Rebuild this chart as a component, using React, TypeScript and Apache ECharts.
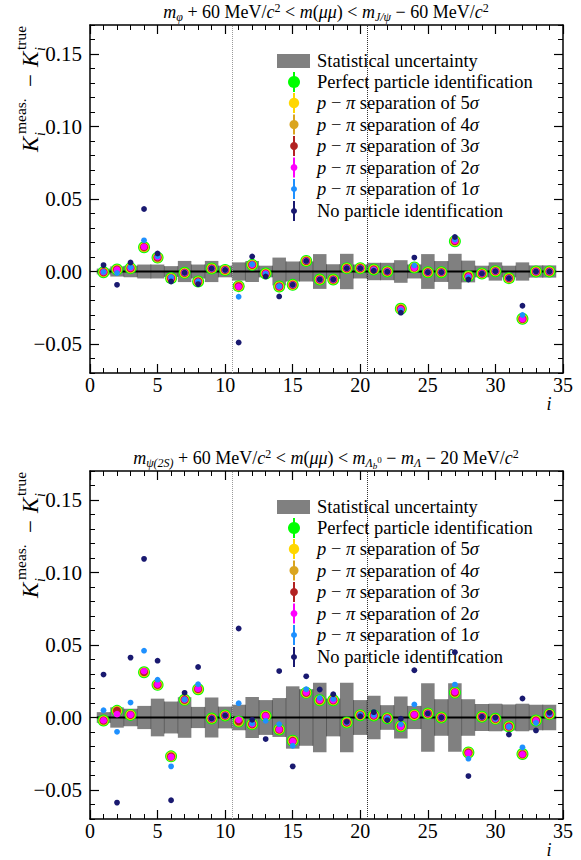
import React, { useEffect, useRef } from "react";
import * as echarts from "echarts";

const SERIF = "Liberation Serif";

const bins = [1, 2, 3, 4, 5, 6, 7, 8, 9, 10, 11, 12, 13, 14, 15, 16, 17, 18, 19, 20, 21, 22, 23, 24, 25, 26, 27, 28, 29, 30, 31, 32, 33, 34];
const yMajorTicks = [-0.05, 0, 0.05, 0.1, 0.15];
const binSeparators = [10.5, 20.5];

// ---------- top panel ----------
const statTop = [0.002, 0.0035, 0.004, 0.0048, 0.0048, 0.0037, 0.0073, 0.0048, 0.0073, 0.004, 0.0063, 0.0073, 0.004, 0.0096, 0.0069, 0.0069, 0.012, 0.005, 0.0122, 0.0048, 0.006, 0.006, 0.0078, 0.0048, 0.012, 0.0072, 0.0122, 0.0075, 0.004, 0.0063, 0.004, 0.0063, 0.0042, 0.0042];
const perfectTop = [-0.0005, 0.0014, 0.0023, 0.0167, 0.0096, -0.0046, -0.0009, -0.0069, 0.0021, 0.0011, -0.0101, 0.0046, -0.0014, -0.0103, -0.0092, 0.0073, -0.0055, -0.0055, 0.0023, 0.0023, 0.0014, 0.0, -0.0257, 0.0028, -0.0005, -0.0005, 0.0209, -0.0032, -0.0014, 0.0002, -0.0046, -0.0326, 0.0, 0.0];
const sep5Top = [-0.0005, 0.0014, 0.0023, 0.0167, 0.0096, -0.0046, -0.0009, -0.0069, 0.0021, 0.0011, -0.0101, 0.0046, -0.0014, -0.0103, -0.0092, 0.0073, -0.0055, -0.0055, 0.0023, 0.0023, 0.0014, 0.0, -0.0257, 0.0028, -0.0005, -0.0005, 0.0209, -0.0032, -0.0014, 0.0002, -0.0046, -0.0326, 0.0, 0.0];
const sep4Top = [-0.0005, 0.0014, 0.0023, 0.0167, 0.0096, -0.0046, -0.0009, -0.0069, 0.0021, 0.0011, -0.0101, 0.0046, -0.0014, -0.0103, -0.0092, 0.0073, -0.0055, -0.0055, 0.0023, 0.0023, 0.0014, 0.0, -0.0257, 0.0028, -0.0005, -0.0005, 0.0209, -0.0032, -0.0014, 0.0002, -0.0046, -0.0326, 0.0, 0.0];
const sep3Top = [-0.0005, 0.0014, 0.0023, 0.0168, 0.0097, -0.0046, -0.0009, -0.0069, 0.0021, 0.0011, -0.0102, 0.0046, -0.0014, -0.0103, -0.0092, 0.0073, -0.0055, -0.0055, 0.0023, 0.0023, 0.0014, 0.0, -0.0258, 0.0028, -0.0005, -0.0005, 0.021, -0.0033, -0.0014, 0.0002, -0.0046, -0.0327, 0.0, 0.0];
const sep2Top = [-0.0004, 0.0013, 0.0024, 0.017, 0.0099, -0.0045, -0.0009, -0.007, 0.0021, 0.0011, -0.0104, 0.0047, -0.0014, -0.0104, -0.0092, 0.0073, -0.0055, -0.0055, 0.0023, 0.0023, 0.0013, 0.0, -0.026, 0.0026, -0.0005, -0.0005, 0.0212, -0.0034, -0.0014, 0.0002, -0.0046, -0.0328, 0.0, 0.0];
const sep1Top = [-0.0003, -0.001, 0.003, 0.0215, 0.0105, -0.004, -0.0009, -0.0069, 0.0021, 0.0011, -0.0174, 0.005, -0.0016, -0.0101, -0.0092, 0.0073, -0.0055, -0.0055, 0.0023, 0.0023, 0.001, 0.0, -0.0268, 0.0042, -0.0005, -0.0005, 0.022, -0.004, -0.0014, 0.0002, -0.0046, -0.03, 0.0, 0.0];
const noPidTop = [0.0044, -0.0092, 0.0062, 0.0431, 0.0124, -0.0069, -0.0009, -0.0087, 0.0021, 0.0011, -0.049, 0.0104, -0.0034, -0.0172, -0.0092, 0.0073, -0.0055, -0.0055, 0.0023, 0.0023, 0.0005, -0.0002, -0.0284, 0.0096, -0.0005, -0.0005, 0.0238, -0.0055, -0.0014, 0.0002, -0.0046, -0.0236, 0.0, 0.0];

// ---------- bottom panel ----------
const statBot = [0.0037, 0.007, 0.006, 0.008, 0.013, 0.011, 0.014, 0.0073, 0.0138, 0.0075, 0.0088, 0.0142, 0.012, 0.0134, 0.0215, 0.0195, 0.024, 0.013, 0.024, 0.012, 0.015, 0.0085, 0.0145, 0.008, 0.0237, 0.0126, 0.0237, 0.0126, 0.0093, 0.0095, 0.009, 0.0095, 0.0088, 0.0088];
const perfectBot = [-0.0021, 0.0046, 0.0018, 0.0312, 0.0225, -0.0268, 0.0122, 0.0195, -0.0007, 0.0014, -0.0028, -0.0046, 0.0011, -0.0083, -0.016, 0.017, 0.0119, 0.0119, -0.0034, 0.0016, 0.0014, -0.0005, -0.006, 0.0018, 0.0028, 0.0, 0.0172, -0.0241, 0.0005, -0.0009, -0.0062, -0.0252, -0.0021, 0.0023];
const sep5Bot = [-0.0021, 0.0046, 0.0018, 0.0312, 0.0225, -0.0268, 0.0122, 0.0195, -0.0007, 0.0014, -0.0028, -0.0046, 0.0011, -0.0083, -0.016, 0.017, 0.0119, 0.0119, -0.0034, 0.0016, 0.0014, -0.0005, -0.006, 0.0018, 0.0028, 0.0, 0.0172, -0.0241, 0.0005, -0.0009, -0.0062, -0.0252, -0.0021, 0.0023];
const sep4Bot = [-0.0021, 0.0046, 0.0018, 0.0313, 0.0225, -0.0268, 0.0122, 0.0195, -0.0007, 0.0014, -0.0028, -0.0046, 0.0011, -0.0083, -0.016, 0.017, 0.0119, 0.0119, -0.0034, 0.0016, 0.0014, -0.0005, -0.006, 0.0018, 0.0028, 0.0, 0.0172, -0.0241, 0.0005, -0.0009, -0.0062, -0.0252, -0.0021, 0.0023];
const sep3Bot = [-0.0021, 0.0046, 0.0018, 0.0314, 0.0226, -0.0269, 0.0122, 0.0196, -0.0007, 0.0014, -0.0026, -0.0046, 0.0011, -0.0083, -0.0161, 0.0171, 0.012, 0.0119, -0.0034, 0.0016, 0.0014, -0.0005, -0.006, 0.0018, 0.0028, 0.0, 0.0173, -0.0242, 0.0005, -0.0009, -0.0062, -0.0253, -0.0021, 0.0023];
const sep2Bot = [-0.002, 0.0023, 0.0019, 0.032, 0.0228, -0.0272, 0.0123, 0.0198, -0.0007, 0.0014, -0.0016, -0.0046, 0.0011, -0.0083, -0.0163, 0.0172, 0.0121, 0.0119, -0.0034, 0.0016, 0.0014, -0.0005, -0.0062, 0.002, 0.0028, 0.0, 0.0176, -0.0245, 0.0005, -0.0009, -0.0063, -0.0254, -0.0022, 0.0023];
const sep1Bot = [0.005, -0.0099, 0.0103, 0.0461, 0.0261, -0.0337, 0.0124, 0.0229, -0.0007, 0.0014, 0.0099, -0.0042, -0.0023, -0.0046, -0.0195, 0.0195, 0.0135, 0.0128, -0.0034, 0.002, 0.0018, -0.0005, -0.0046, 0.009, 0.0028, 0.0, 0.0227, -0.0284, 0.0005, -0.0009, -0.0064, -0.0206, -0.0037, 0.0023];
const noPidBot = [0.0296, -0.0587, 0.0413, 0.1094, 0.0392, -0.0571, 0.017, 0.0348, -0.0007, 0.0014, 0.0614, -0.0016, -0.0149, 0.032, -0.0337, 0.0284, 0.0193, 0.016, -0.003, 0.0009, 0.0037, -0.0018, -0.0009, 0.0326, 0.0028, 0.0, 0.045, -0.0404, 0.0005, 0.0, -0.0117, 0.0131, -0.0089, 0.0032];

const seriesNames = [
  "Perfect particle identification",
  "p − π separation of 5σ",
  "p − π separation of 4σ",
  "p − π separation of 3σ",
  "p − π separation of 2σ",
  "p − π separation of 1σ",
  "No particle identification",
];
const legendLabels = [
  "Statistical uncertainty",
  "Perfect particle identification",
  "{it|p}{n| − }{it|π}{n| separation of 5}{it|σ}",
  "{it|p}{n| − }{it|π}{n| separation of 4}{it|σ}",
  "{it|p}{n| − }{it|π}{n| separation of 3}{it|σ}",
  "{it|p}{n| − }{it|π}{n| separation of 2}{it|σ}",
  "{it|p}{n| − }{it|π}{n| separation of 1}{it|σ}",
  "No particle identification",
];
const seriesColors = ["#00ff00", "#ffd700", "#daa520", "#b22222", "#ff00ff", "#1e90ff", "#191970"];
const markerSizes = [12, 10, 9, 8, 6.8, 5.8, 5.8];
const legendRadii = [6, 5.2, 4.5, 3.9, 3.4, 3, 3];

const titleTop =
  "{it|m}{sub|φ}{n| + 60 MeV/}{it|c}{sup|2}{n| < }{it|m}{n|(}{it|μμ}{n|) < }{it|m}{sub|J/ψ}{n| − 60 MeV/}{it|c}{sup|2}";
const titleBot =
  "{it|m}{sub|ψ(2S)}{n| + 60 MeV/}{it|c}{sup|2}{n| < }{it|m}{n|(}{it|μμ}{n|) < }{it|m}{sub|Λ}{ssub|b}{ssup|0}{n| − }{it|m}{sub|Λ}{n| − 20 MeV/}{it|c}{sup|2}";

const PLOT_LEFT = 90;
const PLOT_RIGHT = 18;
const PLOT_H = 348;

const panels = [
  { top: 25, stat: statTop, values: [perfectTop, sep5Top, sep4Top, sep3Top, sep2Top, sep1Top, noPidTop], title: titleTop },
  { top: 471, stat: statBot, values: [perfectBot, sep5Bot, sep4Bot, sep3Bot, sep2Bot, sep1Bot, noPidBot], title: titleBot },
];

const richTitle = {
  n: { fontFamily: SERIF, fontSize: 18, lineHeight: 24, fill: "#000" },
  it: { fontFamily: SERIF, fontSize: 18, fontStyle: "italic", lineHeight: 24, fill: "#000" },
  sub: { fontFamily: SERIF, fontSize: 12, fontStyle: "italic", lineHeight: 24, padding: [10, 0, 0, 0], fill: "#000" },
  sup: { fontFamily: SERIF, fontSize: 12, lineHeight: 24, padding: [0, 0, 9, 0], fill: "#000" },
  ssub: { fontFamily: SERIF, fontSize: 9, fontStyle: "italic", lineHeight: 24, padding: [15, 0, 0, 0], fill: "#000" },
  ssup: { fontFamily: SERIF, fontSize: 9, lineHeight: 24, padding: [4, 0, 0, 0], fill: "#000" },
};
const richLegend = {
  n: { fontFamily: SERIF, fontSize: 18.5, fill: "#000" },
  it: { fontFamily: SERIF, fontSize: 18.5, fontStyle: "italic", fill: "#000" },
};

function fmtY(v: number) {
  const a = Math.abs(v).toFixed(2);
  return v < -1e-9 ? "−" + a : a;
}

function buildOption() {
  const xAxis: any[] = [];
  const yAxis: any[] = [];
  const series: any[] = [];
  const elements: any[] = [];

  panels.forEach((p, g) => {
    ["bottom", "top"].forEach((pos) => {
      xAxis.push({
        type: "value",
        gridIndex: g,
        position: pos,
        min: 0,
        max: 35,
        interval: 5,
        axisLine: { show: true, onZero: false, lineStyle: { color: "#000", width: 1.5 } },
        axisTick: { show: true, inside: true, length: 9, lineStyle: { color: "#000", width: 1.2 } },
        minorTick: { show: true, splitNumber: 5, length: 5, lineStyle: { color: "#000", width: 1 } },
        axisLabel: { show: pos === "bottom", color: "#000", fontFamily: SERIF, fontSize: 20, margin: 2 },
        splitLine: { show: false },
        minorSplitLine: { show: false },
      });
    });
    ["left", "right"].forEach((pos) => {
      yAxis.push({
        type: "value",
        gridIndex: g,
        position: pos,
        min: -0.07,
        max: 0.17,
        interval: 0.01,
        axisLine: { show: true, onZero: false, lineStyle: { color: "#000", width: 1.5 } },
        axisTick: { show: true, inside: true, length: 9, customValues: yMajorTicks, lineStyle: { color: "#000", width: 1.2 } },
        axisLabel: {
          show: pos === "left",
          customValues: yMajorTicks,
          formatter: fmtY,
          color: "#000",
          fontFamily: SERIF,
          fontSize: 21,
          margin: 8,
        },
        splitLine: { show: false },
      });
      yAxis.push({
        type: "value",
        gridIndex: g,
        position: pos,
        min: -0.07,
        max: 0.17,
        interval: 0.01,
        axisLine: { show: false, onZero: false },
        axisTick: { show: true, inside: true, length: 5, lineStyle: { color: "#000", width: 1 } },
        axisLabel: { show: false },
        splitLine: { show: false },
      });
    });

    const xi = g * 2;
    const yi = g * 4;
    series.push({
      type: "custom",
      xAxisIndex: xi,
      yAxisIndex: yi,
      z: 1,
      silent: true,
      data: bins.map((b, k) => [b, p.stat[k], k > 0 ? Math.min(p.stat[k], p.stat[k - 1]) : 0]),
      renderItem: (params: any, api: any) => {
        const i = api.value(0);
        const h = api.value(1);
        const e = api.value(2);
        const p1 = api.coord([i - 0.5, h]);
        const p2 = api.coord([i + 0.5, -h]);
        const children: any[] = [
          {
            type: "rect",
            shape: { x: p1[0], y: p1[1], width: p2[0] - p1[0], height: p2[1] - p1[1] },
            style: { fill: "#808080" },
          },
        ];
        if (e > 0) {
          const q1 = api.coord([i - 0.5, e]);
          const q2 = api.coord([i - 0.5, -e]);
          children.push({
            type: "line",
            shape: { x1: q1[0], y1: q1[1], x2: q2[0], y2: q2[1] },
            style: { stroke: "#5c5c5c", lineWidth: 1 },
          });
        }
        return { type: "group", children };
      },
    });
    series.push({
      type: "line",
      xAxisIndex: xi,
      yAxisIndex: yi,
      z: 2,
      silent: true,
      symbol: "none",
      data: [
        [bins[0] - 0.5, 0],
        [bins[bins.length - 1] + 0.5, 0],
      ],
      lineStyle: { color: "#000", width: 2 },
      markLine: {
        silent: true,
        symbol: ["none", "none"],
        label: { show: false },
        data: [
          { xAxis: binSeparators[0], lineStyle: { color: "#9a9a9a", type: "dotted", width: 1 } },
          { xAxis: binSeparators[1], lineStyle: { color: "#333", type: "dotted", width: 1 } },
        ],
      },
    });
    p.values.forEach((vals, s) => {
      series.push({
        type: "scatter",
        name: seriesNames[s],
        xAxisIndex: xi,
        yAxisIndex: yi,
        z: 3,
        silent: true,
        symbol: "circle",
        symbolSize: markerSizes[s],
        itemStyle: { color: seriesColors[s], opacity: 1 },
        data: vals.map((v, k) => [bins[k], v]),
      });
    });

    // title
    elements.push({
      type: "text",
      x: 326,
      y: p.top - 13,
      style: { text: p.title, rich: richTitle, align: "center", verticalAlign: "middle", fill: "#000" },
    });

    // y-axis name (rotated)
    const nameY = p.top + 127;
    elements.push({
      type: "group",
      x: 37,
      y: nameY,
      rotation: Math.PI / 2,
      children: [
        { type: "text", x: 0, y: -7, style: { text: "K", fontFamily: SERIF, fontSize: 23, fontStyle: "italic", fill: "#000", verticalAlign: "middle" } },
        { type: "text", x: 16, y: 3, style: { text: "i", fontFamily: SERIF, fontSize: 14, fontStyle: "italic", fill: "#000", verticalAlign: "middle" } },
        { type: "text", x: 18, y: -17, style: { text: "meas.", fontFamily: SERIF, fontSize: 15.5, fill: "#000", verticalAlign: "middle" } },
        { type: "text", x: 65, y: -7, style: { text: "−", fontFamily: SERIF, fontSize: 23, fill: "#000", verticalAlign: "middle" } },
        { type: "text", x: 85, y: -7, style: { text: "K", fontFamily: SERIF, fontSize: 23, fontStyle: "italic", fill: "#000", verticalAlign: "middle" } },
        { type: "text", x: 101, y: 3, style: { text: "i", fontFamily: SERIF, fontSize: 14, fontStyle: "italic", fill: "#000", verticalAlign: "middle" } },
        { type: "text", x: 102, y: -17, style: { text: "true", fontFamily: SERIF, fontSize: 15.5, fill: "#000", verticalAlign: "middle" } },
      ],
    });

    // x-axis name
    elements.push({
      type: "text",
      x: 549,
      y: p.top + PLOT_H + 31,
      style: { text: "i", fontFamily: SERIF, fontSize: 18, fontStyle: "italic", fill: "#000", align: "center", verticalAlign: "middle" },
    });

    // legend
    const rowOffsets = [36, 57, 78, 99.5, 121, 142.5, 164, 186];
    const mx = 294;
    const tx = 317;
    legendLabels.forEach((lab, r) => {
      const ry = p.top + rowOffsets[r];
      if (r === 0) {
        elements.push({ type: "rect", shape: { x: 277, y: ry - 7, width: 33, height: 14 }, style: { fill: "#808080" } });
      } else {
        const c = seriesColors[r - 1];
        elements.push({ type: "line", shape: { x1: mx, y1: ry - 10, x2: mx, y2: ry + 10 }, style: { stroke: c, lineWidth: 2 } });
        elements.push({ type: "circle", shape: { cx: mx, cy: ry, r: legendRadii[r - 1] }, style: { fill: c } });
      }
      elements.push({
        type: "text",
        x: tx,
        y: ry,
        style: {
          text: lab.indexOf("{") >= 0 ? lab : "{n|" + lab + "}",
          rich: richLegend,
          align: "left",
          verticalAlign: "middle",
          fill: "#000",
        },
      });
    });
  });

  return {
    animation: false,
    backgroundColor: "#ffffff",
    textStyle: { fontFamily: SERIF },
    grid: panels.map((p) => ({ left: PLOT_LEFT, right: PLOT_RIGHT, top: p.top, height: PLOT_H })),
    xAxis,
    yAxis,
    series,
    graphic: { elements },
  };
}

export default function App() {
  const ref = useRef<HTMLDivElement>(null);
  useEffect(() => {
    if (!ref.current) return;
    const chart = echarts.init(ref.current, undefined, { renderer: "svg" });
    chart.setOption(buildOption() as any);
    return () => chart.dispose();
  }, []);
  return <div ref={ref} style={{ position: "absolute", left: 0, top: 0, width: 581, height: 860, background: "#fff" }} />;
}
